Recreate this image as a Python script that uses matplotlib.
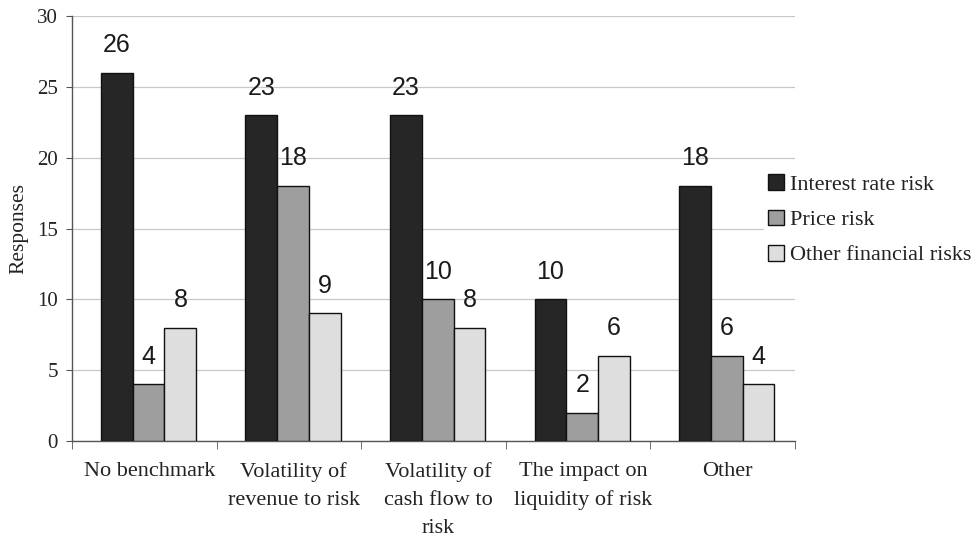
import matplotlib
matplotlib.use("Agg")
import matplotlib.pyplot as plt
import matplotlib.transforms as mtransforms
import numpy as np

categories = ["No benchmark", "Volatility of\nrevenue to risk", "Volatility of\ncash flow to\nrisk",
              "The impact on\nliquidity of risk", "Other"]
series_names = ["Interest rate risk", "Price risk", "Other financial risks"]
interest_rate = [26, 23, 23, 10, 18]
price = [4, 18, 10, 2, 6]
other_fin = [8, 9, 8, 6, 4]
y_ticks = [0, 5, 10, 15, 20, 25, 30]

colors = ["#262626", "#9e9e9e", "#dedede"]
serif = "Liberation Serif"
sans = "Liberation Sans"

fig = plt.figure(figsize=(9.78, 5.39), dpi=100)
ax = fig.add_axes([0.0736, 0.182, 0.739, 0.788])

x = np.arange(len(categories))
width = 0.22
offsets = [-width, 0, width]
for vals, off, col, name in zip([interest_rate, price, other_fin], offsets, colors, series_names):
    bars = ax.bar(x + off + 0.03, vals, width, color=col, edgecolor="#111111", linewidth=1.0,
                  label=name, zorder=3)
    for b, v in zip(bars, vals):
        ax.text(b.get_x() + b.get_width() / 2, v + 1.1, f"{v:d}", ha="center", va="bottom",
                fontsize=18, family=sans, color="#1a1a1a", zorder=4)

ax.set_xlim(-0.5, len(categories) - 0.5)
ax.set_ylim(0, 30)
ax.set_yticks(y_ticks)
ax.set_yticklabels([str(t) for t in y_ticks], family=serif, fontsize=15, color="#222222")
ax.yaxis.grid(True, color="#c8c8c8", linewidth=0.9, zorder=0)
ax.set_axisbelow(True)

ax.set_xticks(x)
ax.set_xticklabels(categories, family=serif, fontsize=16, color="#222222", linespacing=1.65)
ax.set_xticks(np.arange(-0.5, len(categories)), minor=True)
ax.tick_params(axis="x", which="major", length=0, pad=15)
ax.tick_params(axis="x", which="minor", length=6, color="#555555", direction="out")
ax.tick_params(axis="y", length=4, color="#555555", pad=6)

# nudge category labels slightly to the right
shift = mtransforms.ScaledTranslation(5 / 100, 0, fig.dpi_scale_trans)
for lbl in ax.get_xticklabels():
    lbl.set_transform(lbl.get_transform() + shift)

for s in ["top", "right"]:
    ax.spines[s].set_visible(False)
for s in ["left", "bottom"]:
    ax.spines[s].set_color("#555555")
    ax.spines[s].set_linewidth(1.0)

ax.set_ylabel("Responses", family=serif, fontsize=15.5, color="#222222", labelpad=6)

leg = fig.legend(*ax.get_legend_handles_labels(), loc="center left",
                 bbox_to_anchor=(0.781, 0.592), bbox_transform=fig.transFigure,
                 frameon=True, facecolor="white", edgecolor="white", framealpha=1.0,
                 fancybox=False, prop={"family": serif, "size": 16},
                 handlelength=0.72, handleheight=0.72, handletextpad=0.25,
                 labelspacing=0.65, borderaxespad=0.0, borderpad=0.2)
for t in leg.get_texts():
    t.set_color("#222222")

fig.savefig("out.png", dpi=100, facecolor="white")
